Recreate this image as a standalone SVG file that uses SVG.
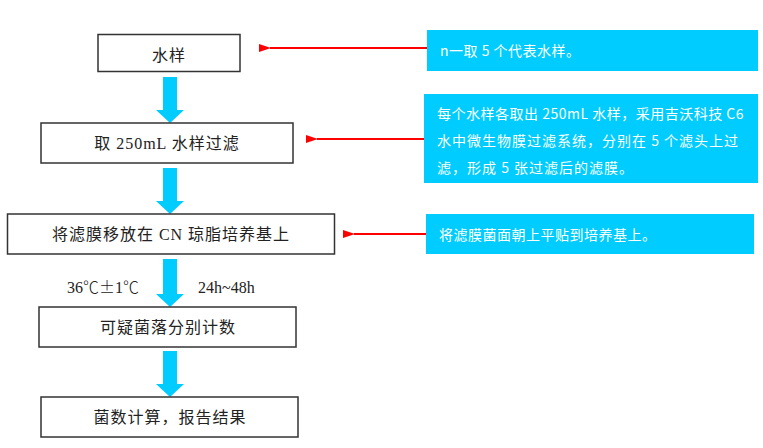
<svg xmlns="http://www.w3.org/2000/svg" width="763" height="448" viewBox="0 0 763 448">
<style>
.box{fill:#fff;stroke:#333;stroke-width:1.5}
.t{font-family:"Liberation Serif","Noto Sans CJK SC",serif;font-size:16px;fill:#222}
.fw{font-family:"Noto Sans CJK SC",sans-serif;font-weight:300}
.note{fill:#00CCFF}
.nt{font-family:"Noto Sans CJK SC","Liberation Sans",sans-serif;font-size:14px;fill:#fff}
.red{stroke:#FF0000;stroke-width:2;fill:none}
.cy{fill:#00CCFF}
</style>
<defs>
<marker id="rh" markerWidth="12" markerHeight="10" refX="1" refY="5" orient="auto" markerUnits="userSpaceOnUse">
<path d="M12,1 L0,5 L12,9 Z" fill="#FF0000"/>
</marker>
</defs>
<rect width="763" height="448" fill="#fff"/>
<g id="connectors">
<path class="cy" d="M163,77 H177 V110 H184 L170,123 L156,110 H163 Z"/>
<path class="cy" d="M163,168 H177 V201 H184 L170,214 L156,201 H163 Z"/>
<path class="cy" d="M163,259 H177 V294 H184 L170,307 L156,294 H163 Z"/>
<path class="cy" d="M163,351 H177 V384 H184 L170,397 L156,384 H163 Z"/>
<line class="red" x1="428" y1="48" x2="270" y2="48" marker-end="url(#rh)"/>
<line class="red" x1="424" y1="139" x2="317" y2="139" marker-end="url(#rh)"/>
<line class="red" x1="426" y1="234" x2="354" y2="234" marker-end="url(#rh)"/>
</g>
<g id="n1"><rect class="box" x="98" y="34.5" width="142" height="37"/><text class="t" x="169" y="61" text-anchor="middle" letter-spacing="1">水样</text></g>
<g id="n2"><rect class="box" x="41" y="123" width="252" height="40"/><text class="t" x="167" y="149" text-anchor="middle" letter-spacing="1">取 250mL 水样过滤</text></g>
<g id="n3"><rect class="box" x="7.5" y="214" width="327" height="40"/><text class="t" x="171" y="240" text-anchor="middle" letter-spacing="1">将滤膜移放在 CN 琼脂培养基上</text></g>
<g id="l1"><text class="t" x="67" y="293">36<tspan class="fw">℃±</tspan>1<tspan class="fw">℃</tspan></text><text class="t" x="198" y="293">24h~48h</text></g>
<g id="n4"><rect class="box" x="39" y="307" width="257" height="40"/><text class="t" x="168" y="333" text-anchor="middle" letter-spacing="1">可疑菌落分别计数</text></g>
<g id="n5"><rect class="box" x="41" y="397" width="257" height="40"/><text class="t" x="170" y="423" text-anchor="middle" letter-spacing="1">菌数计算，报告结果</text></g>
<g id="c1"><rect class="note" x="427" y="30" width="331" height="41"/><text class="nt" x="440" y="56" letter-spacing="0.5">n一取 5 个代表水样。</text></g>
<g id="c2"><rect class="note" x="424" y="94" width="334" height="89"/>
<text class="nt" x="437" y="119" letter-spacing="0.5">每个水样各取出 250mL 水样，采用吉沃科技 C6</text>
<text class="nt" x="437" y="146" letter-spacing="1">水中微生物膜过滤系统，分别在 5 个滤头上过</text>
<text class="nt" x="437" y="173" letter-spacing="1">滤，形成 5 张过滤后的滤膜。</text></g>
<g id="c3"><rect class="note" x="426" y="214" width="328" height="40"/><text class="nt" x="439" y="240" letter-spacing="0.5">将滤膜菌面朝上平贴到培养基上。</text></g>
</svg>
